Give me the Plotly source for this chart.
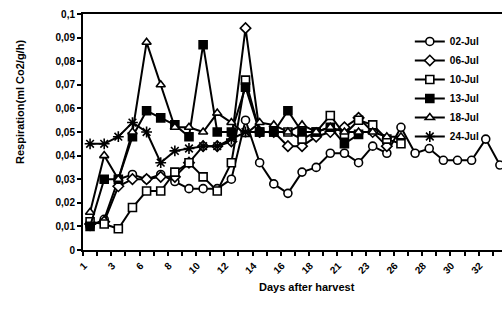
import plotly.graph_objects as go

days = [1, 2, 3, 5, 6, 7, 8, 9, 10, 11, 12, 13, 14, 15, 16, 17, 18, 20, 21, 22,
        23, 25, 26, 27, 28, 29, 30, 31, 32, 33]
cats = [str(d) for d in days]

s_0207 = [0.010, 0.013, 0.030, 0.032, 0.030, 0.032, 0.029, 0.026, 0.026, 0.026,
          0.030, 0.055, 0.037, 0.028, 0.024, 0.033, 0.035, 0.041, 0.041, 0.037,
          0.044, 0.041, 0.052, 0.041, 0.043, 0.038, 0.038, 0.038, 0.047, 0.036]
s_0607 = [0.011, 0.012, 0.027, 0.030, 0.030, 0.031, 0.031, 0.037, 0.044, 0.044,
          0.046, 0.094, 0.050, 0.050, 0.044, 0.044, 0.048, 0.050, 0.052, 0.056,
          0.050, 0.044]
s_1007 = [0.012, 0.011, 0.009, 0.018, 0.025, 0.025, 0.033, 0.037, 0.031, 0.025,
          0.037, 0.072, 0.050, 0.050, 0.050, 0.047, 0.050, 0.057, 0.049, 0.055,
          0.053, 0.047, 0.045]
s_1307 = [0.010, 0.030, 0.030, 0.048, 0.059, 0.056, 0.053, 0.048, 0.087, 0.050,
          0.050, 0.069, 0.050, 0.050, 0.059, 0.050, 0.050, 0.052, 0.045, 0.049]
s_1807 = [0.016, 0.040, 0.030, 0.050, 0.088, 0.070, 0.052, 0.052, 0.050, 0.058,
          0.054, 0.049, 0.054, 0.053, 0.050, 0.053, 0.050, 0.052, 0.050, 0.050,
          0.050, 0.048, 0.048]
s_2407 = [0.045, 0.045, 0.048, 0.054, 0.050, 0.037, 0.042, 0.043, 0.044, 0.044,
          0.047, 0.050, 0.050]

series = [
    ("02-Jul", s_0207, "circle", "white", 8),
    ("06-Jul", s_0607, "diamond", "white", 8),
    ("10-Jul", s_1007, "square", "white", 8),
    ("13-Jul", s_1307, "square", "black", 8),
    ("18-Jul", s_1807, "triangle-up", "white", 8),
    ("24-Jul", s_2407, "asterisk-open", "black", 9),
]

fig = go.Figure()
for name, vals, sym, fill, size in series:
    fig.add_trace(go.Scatter(
        x=cats[:len(vals)], y=vals, name=name, mode="lines+markers",
        line=dict(color="black", width=2),
        marker=dict(symbol=sym, size=size, color=fill,
                    line=dict(color="black", width=1.6)),
        cliponaxis=False,
    ))

ticktext = [c if i % 2 == 0 else "" for i, c in enumerate(cats)]

W, H = 502, 320
L, R, T, B = 83, 0, 14, 70
PW, PH = W - L - R, H - T - B


def px_to_paper(px, py):
    return (px - L) / PW, (H - B - py) / PH


yx, yy = px_to_paper(20, 102)
xx, xy = px_to_paper(307, 287)

fig.update_layout(
    width=W, height=H,
    margin=dict(l=L, r=R, t=T, b=B),
    paper_bgcolor="white", plot_bgcolor="white",
    separators=", ",
    font=dict(family="Liberation Sans, Arial", size=10, color="black", weight=700),
    showlegend=True,
    legend=dict(x=0.78, y=0.945, xanchor="left", yanchor="top",
                bgcolor="rgba(0,0,0,0)", font=dict(size=10, weight=700),
                tracegroupgap=0, itemwidth=30),
    xaxis=dict(type="category", categoryorder="array", categoryarray=cats,
               range=[-0.5, 29.15], tickmode="array", tickvals=cats,
               ticktext=ticktext, tickangle=-45, tickson="boundaries",
               ticks="outside", ticklen=4, tickwidth=1.5, tickcolor="black",
               ticklabelshift=-6, ticklabelstandoff=4,
               showline=True, linecolor="black", linewidth=2, mirror=True,
               showgrid=False, zeroline=False, tickfont=dict(size=10, weight=700)),
    yaxis=dict(range=[0, 0.1], dtick=0.01, tick0=0, ticks="outside", ticklen=4,
               tickwidth=1.5, tickcolor="black", showline=True, linecolor="black",
               linewidth=2, showgrid=False, zeroline=False,
               tickfont=dict(size=10, weight=700)),
    annotations=[
        dict(text="Respiration(ml Co2/g/h)", textangle=-90, x=yx, y=yy,
             xref="paper", yref="paper", xanchor="center", yanchor="middle",
             showarrow=False, font=dict(size=11, weight=700)),
        dict(text="Days after harvest", x=xx, y=xy,
             xref="paper", yref="paper", xanchor="center", yanchor="middle",
             showarrow=False, font=dict(size=11, weight=700)),
    ],
)

fig.write_html("out.html")
